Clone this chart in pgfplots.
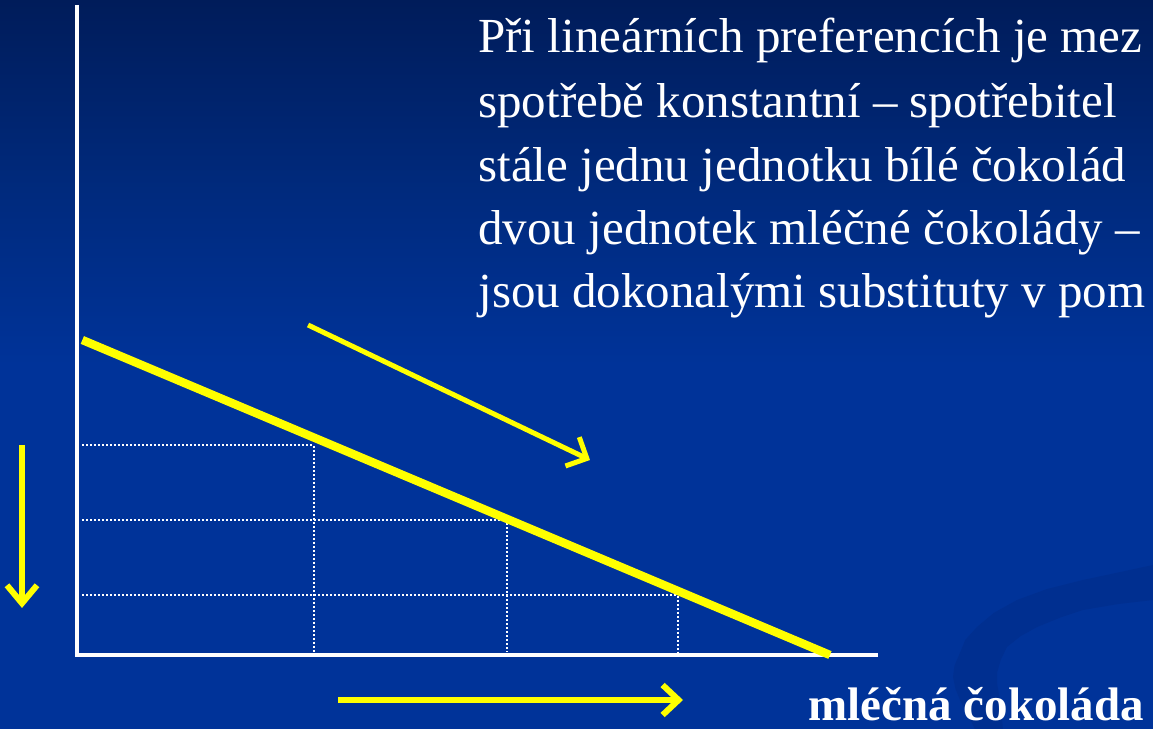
\documentclass[border=0pt]{standalone}
\usepackage{fontspec}
\setmainfont{Liberation Serif}
\usepackage{pgfplots}
\pgfplotsset{compat=1.18}
\usetikzlibrary{arrows.meta}
\definecolor{bgtop}{RGB}{0,28,90}
\definecolor{bgmid}{RGB}{0,42,125}
\definecolor{bgblue}{RGB}{0,51,153}
\definecolor{swoosh}{RGB}{0,47,144}
\definecolor{hlyellow}{RGB}{255,255,0}
\pgfdeclareverticalshading{slidebg}{100bp}{color(0bp)=(bgblue); color(50bp)=(bgblue); color(62bp)=(bgmid); color(75bp)=(bgtop); color(100bp)=(bgtop)}
\begin{document}
\begin{tikzpicture}
\useasboundingbox (0,0) rectangle (576.5pt,364.5pt);
\clip (0,0) rectangle (576.5pt,364.5pt);
\begin{axis}[
  at={(0,0)}, anchor=south west,
  scale only axis, width=576.5pt, height=364.5pt,
  xmin=-0.8652, xmax=12.0899, ymin=-0.9867, ymax=8.7333,
  axis lines=none, xtick=\empty, ytick=\empty,
  axis background/.style={shade, shading=slidebg},
  clip=false,
]
% background swoosh
\addplot[draw=none, fill=swoosh] coordinates {
  (12.09,1.2) (11.70,1.10) (11.303,1.0) (10.90,0.88) (10.562,0.733) (10.30,0.56) (10.112,0.373)
  (9.98,0.20) (9.921,0.027) (9.86,-0.14) (9.843,-0.293) (9.87,-0.45) (9.921,-0.6) (10.09,-0.987)
  (10.404,-0.987) (10.371,-0.6) (10.34,-0.40) (10.337,-0.24) (10.38,-0.06) (10.449,0.107)
  (10.60,0.25) (10.787,0.373) (11.05,0.50) (11.303,0.6) (11.70,0.68) (12.09,0.733)
} -- cycle;
% axes
\addplot[white, line width=2pt] coordinates {(0,8.667) (0,0) (9.0,0)};
% dotted guides
\addplot[white, line width=1pt, dash pattern=on 1pt off 1pt] coordinates {(0.06,2.8) (2.66,2.8) (2.66,0.04)};
\addplot[white, line width=1pt, dash pattern=on 1pt off 1pt] coordinates {(0.06,1.8) (4.83,1.8) (4.83,0.04)};
\addplot[white, line width=1pt, dash pattern=on 1pt off 1pt] coordinates {(0.06,0.8) (6.75,0.8) (6.75,0.04)};
% indifference line
\addplot[hlyellow, line width=4.2pt] coordinates {(0.06,4.2) (8.46,0)};
% arrows
\addplot[hlyellow, line width=2.5pt, -{Straight Barb[length=8pt,width=16pt]}] coordinates {(2.596,4.4) (5.764,2.6)};
\addplot[hlyellow, line width=3pt, -{Straight Barb[length=9pt,width=15pt]}] coordinates {(-0.618,2.8) (-0.618,0.627)};
\addplot[hlyellow, line width=3pt, -{Straight Barb[length=8pt,width=15pt]}] coordinates {(2.933,-0.6) (6.809,-0.6)};
% text
\begin{scope}[every node/.style={anchor=base west, text=white, inner sep=0pt, font=\fontsize{24.5}{30}\selectfont}]
\node at (axis cs:4.506,8.027) {Při lineárních preferencích je mez};
\node at (axis cs:4.506,7.160) {spotřebě konstantní – spotřebitel};
\node at (axis cs:4.506,6.307) {stále jednu jednotku bílé čokolád};
\node at (axis cs:4.506,5.467) {dvou jednotek mléčné čokolády –};
\node at (axis cs:4.506,4.627) {jsou dokonalými substituty v pom};
\end{scope}
\node[anchor=base west, text=white, inner sep=0pt, font=\fontsize{23.5}{28}\selectfont\bfseries] at (axis cs:8.213,-0.88) {mléčná čokoláda};
\end{axis}
\end{tikzpicture}
\end{document}
